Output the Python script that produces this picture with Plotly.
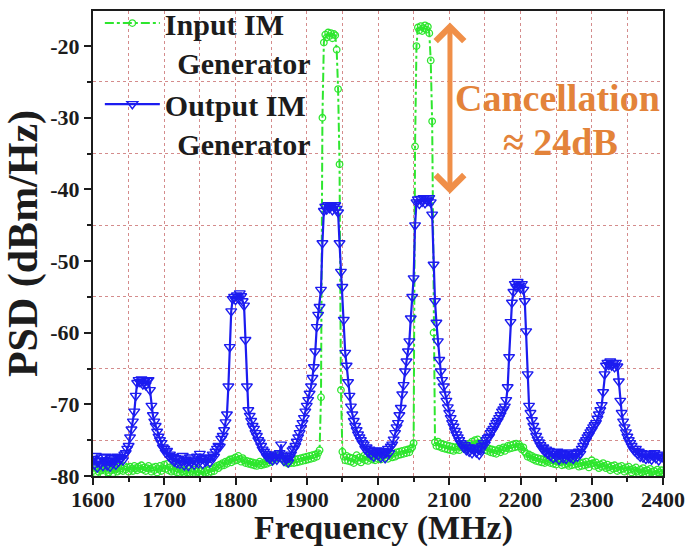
import plotly.graph_objects as go

# Frequency grid (MHz), 2 MHz spacing
freq_start, freq_stop, freq_step = 1600, 2400, 2
freq = list(range(freq_start, freq_stop + 1, freq_step))

# PSD of the input IM generator (dBm/Hz), one row per 40 MHz
psd_input = [
    -79.3, -78.8, -79.6, -79.0, -79.4, -78.7, -79.2, -79.7, -78.9, -79.3, -79.0, -79.5, -78.8, -79.2, -79.6, -78.9, -79.1, -79.4, -78.7, -79.2,
    -78.9, -79.3, -78.6, -79.1, -78.8, -79.4, -78.7, -79.0, -79.3, -78.6, -78.9, -79.2, -78.7, -79.0, -78.5, -79.1, -78.8, -79.3, -78.9, -78.6,
    -79.0, -79.4, -78.8, -79.2, -78.7, -79.5, -79.0, -78.6, -79.3, -78.9, -78.4, -79.0, -78.3, -79.2, -78.8, -79.4, -79.0, -79.3, -78.7, -79.5,
    -79.1, -79.6, -79.0, -79.4, -79.8, -79.2, -79.5, -79.0, -79.7, -79.3, -79.6, -79.1, -79.8, -79.4, -79.0, -79.7, -79.3, -79.9, -79.4, -79.6,
    -79.2, -79.6, -79.0, -79.4, -78.9, -79.3, -78.8, -78.6, -78.9, -78.4, -78.6, -78.2, -78.5, -78.0, -78.3, -77.9, -77.7, -78.1, -77.6, -77.9,
    -77.4, -77.8, -77.2, -77.6, -78.0, -77.5, -77.8, -78.2, -77.9, -78.3, -78.0, -78.4, -78.1, -78.5, -78.2, -78.6, -78.3, -78.0, -78.5, -78.2,
    -78.4, -78.0, -78.3, -77.8, -78.1, -77.5, -77.9, -77.3, -77.6, -76.9, -77.4, -77.0, -77.6, -77.2, -77.8, -78.1, -77.7, -78.3, -77.9, -78.2,
    -77.8, -78.2, -77.7, -78.1, -77.6, -78.0, -77.5, -77.9, -77.4, -77.8, -77.3, -77.7, -77.2, -77.6, -77.1, -77.5, -77.0, -77.3, -76.8, -76.4,
    -69.0, -30.0, -19.5, -18.4, -18.8, -18.1, -18.6, -18.2, -18.9, -18.3, -18.5, -20.5, -26.0, -36.5, -68.0, -76.6, -77.3, -77.8, -77.2, -77.9,
    -77.4, -78.0, -77.5, -78.2, -77.6, -77.1, -77.9, -77.4, -78.1, -77.6, -77.2, -77.8, -77.3, -77.9, -77.5, -77.0, -77.7, -77.3, -77.8, -77.2,
    -77.6, -77.1, -77.7, -77.3, -76.9, -77.5, -77.0, -77.6, -77.2, -76.8, -77.4, -76.9, -77.3, -76.7, -77.1, -76.6, -77.0, -76.5, -76.9, -76.4,
    -76.8, -76.3, -76.7, -76.2, -76.0, -75.4, -34.0, -20.0, -17.4, -17.8, -17.2, -17.9, -17.5, -17.1, -17.7, -17.3, -18.2, -22.0, -30.5, -60.0,
    -75.3, -75.8, -75.2, -75.9, -75.5, -76.1, -75.6, -76.2, -75.7, -76.3, -75.8, -76.4, -75.9, -76.5, -76.0, -76.3, -75.9, -76.4, -76.0, -75.7,
    -76.1, -75.8, -76.3, -75.9, -75.5, -75.9, -75.2, -75.7, -75.0, -75.5, -74.9, -75.4, -75.8, -76.2, -75.9, -76.4, -76.0, -76.5, -76.2, -76.7,
    -76.3, -76.8, -76.4, -76.9, -76.5, -76.2, -76.7, -76.3, -76.0, -76.5, -76.1, -75.8, -76.2, -75.7, -76.1, -75.6, -76.0, -75.5, -75.9, -75.6,
    -75.9, -76.3, -76.0, -76.6, -76.9, -77.3, -77.0, -77.5, -77.2, -77.7, -77.4, -77.9, -77.5, -78.0, -77.6, -78.1, -77.7, -78.2, -77.8, -78.0,
    -77.7, -78.2, -77.8, -78.3, -77.9, -78.4, -78.0, -77.6, -78.1, -78.5, -78.0, -78.4, -77.9, -78.3, -78.6, -78.1, -78.5, -78.0, -78.4, -77.9,
    -78.3, -78.7, -78.2, -78.6, -78.1, -78.5, -78.0, -78.4, -78.8, -78.3, -77.8, -78.2, -78.6, -78.1, -78.5, -78.9, -78.4, -78.7, -78.2, -78.6,
    -78.9, -78.4, -78.8, -79.2, -78.6, -79.0, -78.5, -78.9, -79.3, -78.7, -79.1, -78.6, -79.0, -79.4, -78.8, -79.2, -78.7, -79.1, -79.5, -79.0,
    -79.3, -78.8, -79.4, -79.7, -79.1, -79.5, -78.9, -79.3, -79.8, -79.2, -79.6, -79.0, -79.4, -79.9, -79.3, -79.7, -79.1, -79.5, -79.8, -79.2,
    -79.5,
]

# PSD of the output IM generator (dBm/Hz), one row per 40 MHz
psd_output = [
    -77.6, -78.4, -77.2, -78.8, -77.9, -78.3, -77.4, -78.6, -77.8, -77.3, -78.5, -77.9, -78.7, -77.5, -78.2, -77.7, -78.4, -77.3, -78.0, -77.6,
    -77.5, -77.8, -77.0, -76.8, -76.2, -75.8, -74.6, -73.5, -72.4, -71.0, -68.8, -67.0, -66.6, -66.9, -66.5, -67.2, -66.8, -67.3, -66.7, -66.6,
    -68.0, -70.2, -71.5, -72.4, -73.0, -73.8, -74.5, -75.0, -75.4, -76.0, -76.2, -76.7, -76.5, -77.2, -77.0, -77.6, -77.3, -78.0, -77.5, -78.2,
    -77.6, -78.3, -77.8, -77.2, -78.5, -77.7, -78.0, -78.6, -77.4, -78.1, -77.7, -78.4, -77.9, -77.3, -78.2, -76.9, -77.6, -78.3, -77.5, -78.0,
    -77.8, -77.4, -78.1, -77.5, -77.0, -77.3, -76.6, -76.2, -75.8, -75.9, -74.8, -74.4, -73.6, -72.5, -71.4, -67.5, -62.0, -57.0, -55.3, -55.0,
    -55.4, -54.8, -55.2, -54.5, -54.9, -55.6, -56.2, -61.0, -67.5, -70.8, -71.6, -72.3, -73.0, -73.4, -74.0, -74.4, -75.0, -75.3, -75.8, -76.3,
    -76.6, -76.9, -77.3, -77.0, -77.6, -77.2, -77.8, -77.4, -77.0, -77.7, -77.3, -76.8, -75.6, -77.5, -77.9, -77.2, -77.6, -78.1, -77.4, -77.0,
    -76.4, -76.2, -75.8, -75.2, -74.6, -74.0, -73.3, -72.6, -71.9, -71.0, -70.2, -69.4, -68.5, -67.5, -66.3, -64.8, -62.6, -59.2, -57.5, -56.4,
    -54.0, -47.5, -43.0, -42.4, -42.8, -42.2, -42.6, -42.3, -42.9, -42.4, -42.2, -42.7, -43.2, -47.5, -51.5, -53.6, -58.2, -62.8, -64.6, -66.9,
    -68.8, -70.3, -71.4, -72.3, -73.0, -73.6, -74.2, -74.6, -75.0, -75.4, -75.6, -76.2, -76.0, -76.7, -76.3, -77.0, -76.5, -77.3, -76.8, -76.4,
    -77.1, -76.6, -77.4, -76.5, -76.9, -77.5, -76.7, -76.2, -76.8, -75.9, -75.6, -74.9, -74.0, -73.2, -72.6, -71.5, -70.5, -68.6, -67.3, -65.4,
    -64.0, -62.6, -61.2, -58.0, -55.0, -52.4, -45.0, -41.8, -41.4, -42.0, -41.3, -41.7, -41.2, -41.9, -41.4, -41.6, -41.2, -41.8, -43.5, -50.5,
    -55.6, -58.6, -61.2, -63.8, -65.4, -66.6, -67.5, -68.6, -69.5, -70.4, -71.2, -71.9, -72.6, -73.1, -73.7, -74.2, -74.6, -75.0, -75.4, -75.6,
    -76.0, -75.7, -76.4, -76.0, -76.6, -76.1, -76.8, -76.3, -76.0, -76.7, -76.2, -77.0, -76.4, -75.8, -75.4, -75.6, -75.0, -74.7, -74.5, -74.0,
    -73.7, -73.4, -73.0, -72.6, -72.3, -71.9, -71.5, -71.0, -70.7, -70.3, -69.4, -67.6, -63.4, -58.5, -55.8, -54.3, -53.2, -53.6, -52.9, -53.4,
    -53.8, -53.2, -54.0, -55.6, -59.8, -65.8, -70.2, -71.2, -72.2, -73.0, -73.7, -74.4, -74.9, -75.3, -75.7, -76.1, -76.0, -76.6, -76.3, -76.9,
    -76.5, -77.2, -76.7, -77.5, -76.9, -77.3, -76.6, -77.7, -77.0, -76.8, -77.5, -76.9, -77.6, -77.1, -76.7, -77.4, -76.9, -77.6, -77.2, -76.8,
    -77.3, -76.6, -76.9, -76.2, -75.8, -75.3, -75.0, -74.6, -74.3, -73.9, -73.6, -73.2, -72.9, -72.6, -72.0, -71.4, -70.8, -70.1, -68.3, -65.8,
    -64.6, -64.2, -64.5, -64.0, -64.6, -64.3, -64.8, -64.2, -64.7, -66.8, -69.5, -71.2, -72.4, -73.2, -73.9, -74.5, -75.0, -75.4, -75.8, -76.2,
    -76.5, -76.2, -76.9, -76.6, -77.3, -76.8, -77.4, -76.9, -77.6, -77.0, -77.5, -76.9, -77.7, -77.2, -76.8, -77.5, -77.1, -77.8, -77.3, -77.0,
    -77.4,
]

# Axis ticks
x_ticks = [1600, 1700, 1800, 1900, 2000, 2100, 2200, 2300, 2400]
y_ticks = [-80, -70, -60, -50, -40, -30, -20]
y_tick_labels = ["-80", "-70", "-60", "-50", "-40", "-30", "-20"]

# Cancellation marker: arrow between the two peak levels
arrow_freq = 2101
arrow_top = -16.7
arrow_bottom = -40.8

serif = "Liberation Serif"
ink = "#1c1c1c"
green = "#2ee62e"
blue = "#1c1cf0"
orange_text = "#e3833a"
orange_arrow = "#f08f48"
grid_color = "rgba(205,120,120,0.85)"
indent = "\u00a0\u2006"

plot_h = 548 - 11 - 72  # plot-area height in px

fig = go.Figure()

fig.add_trace(go.Scatter(
    x=freq, y=psd_input, mode="lines+markers",
    name=f"<b>Input IM</b><br><b>{indent}Generator</b>",
    line=dict(color=green, width=2, dash="dashdot"),
    marker=dict(symbol="circle-open", size=6.5, color=green, line=dict(width=1.3, color=green)),
))
fig.add_trace(go.Scatter(
    x=freq, y=psd_output, mode="lines+markers",
    name=f"<b>Output IM</b><br><b>{indent}Generator</b>",
    line=dict(color=blue, width=2.2),
    marker=dict(symbol="triangle-down-open", size=9.5, color=blue, line=dict(width=1.4, color=blue)),
))

# double-headed arrow
fig.add_annotation(
    x=arrow_freq, y=arrow_top, ax=arrow_freq, ay=arrow_bottom,
    xref="x", yref="y", axref="x", ayref="y",
    text="", showarrow=True, arrowhead=4, startarrowhead=4,
    arrowside="end+start", arrowsize=1.1, startarrowsize=1.1,
    arrowwidth=5, arrowcolor=orange_arrow, standoff=0, startstandoff=0,
)
fig.add_annotation(
    x=2252, y=-27.2, xref="x", yref="y", text="<b>Cancellation</b>",
    showarrow=False, font=dict(family=serif, size=38, color=orange_text),
)
fig.add_annotation(
    x=2256, y=-33.4, xref="x", yref="y", text="<b>\u2248 24dB</b>",
    showarrow=False, font=dict(family=serif, size=38, color=orange_text),
)

# x-axis title, anchored to the bottom edge of the figure
fig.add_annotation(
    x=0.51, y=-72 / plot_h, xref="paper", yref="paper",
    xanchor="center", yanchor="bottom", showarrow=False, borderpad=0,
    text="<b>Frequency (MHz)</b>", font=dict(family=serif, size=34, color=ink),
)

fig.update_layout(
    width=686, height=548,
    margin=dict(l=93, r=23, t=11, b=72, autoexpand=False),
    paper_bgcolor="white", plot_bgcolor="white",
    font=dict(family=serif, color=ink),
    showlegend=True,
    legend=dict(
        x=0.012, y=1.03, xanchor="left", yanchor="top",
        bgcolor="rgba(0,0,0,0)", borderwidth=0,
        font=dict(family=serif, size=30, color=ink),
        itemwidth=55, valign="top", tracegroupgap=0,
    ),
    xaxis=dict(
        range=[freq_start, freq_stop], tickvals=x_ticks,
        showgrid=False, zeroline=False, automargin=False,
        showline=True, linecolor=ink, linewidth=2, mirror=True,
        ticks="outside", ticklen=7, tickwidth=2, tickcolor=ink,
        ticklabelstandoff=-4,
        tickfont=dict(family=serif, size=22, color=ink, weight="bold"),
        minor=dict(dtick=50, tick0=1600, showgrid=True, gridcolor=grid_color, griddash="dot", gridwidth=1,
                   ticks="outside", ticklen=4, tickwidth=1.5, tickcolor=ink),
    ),
    yaxis=dict(
        range=[-80, -15.1], tickvals=y_ticks, ticktext=y_tick_labels,
        showgrid=False, zeroline=False, automargin=False,
        showline=True, linecolor=ink, linewidth=2, mirror=True,
        ticks="outside", ticklen=7, tickwidth=2, tickcolor=ink,
        tickfont=dict(family=serif, size=22, color=ink, weight="bold"),
        title=dict(text="<b>PSD (dBm/Hz)</b>", font=dict(family=serif, size=42, color=ink), standoff=4),
        minor=dict(tickmode="linear", tick0=-75, dtick=10, showgrid=True, gridcolor=grid_color, griddash="dot", gridwidth=1,
                   ticks="outside", ticklen=4, tickwidth=1.5, tickcolor=ink),
    ),
)

fig.write_html("out.html")
